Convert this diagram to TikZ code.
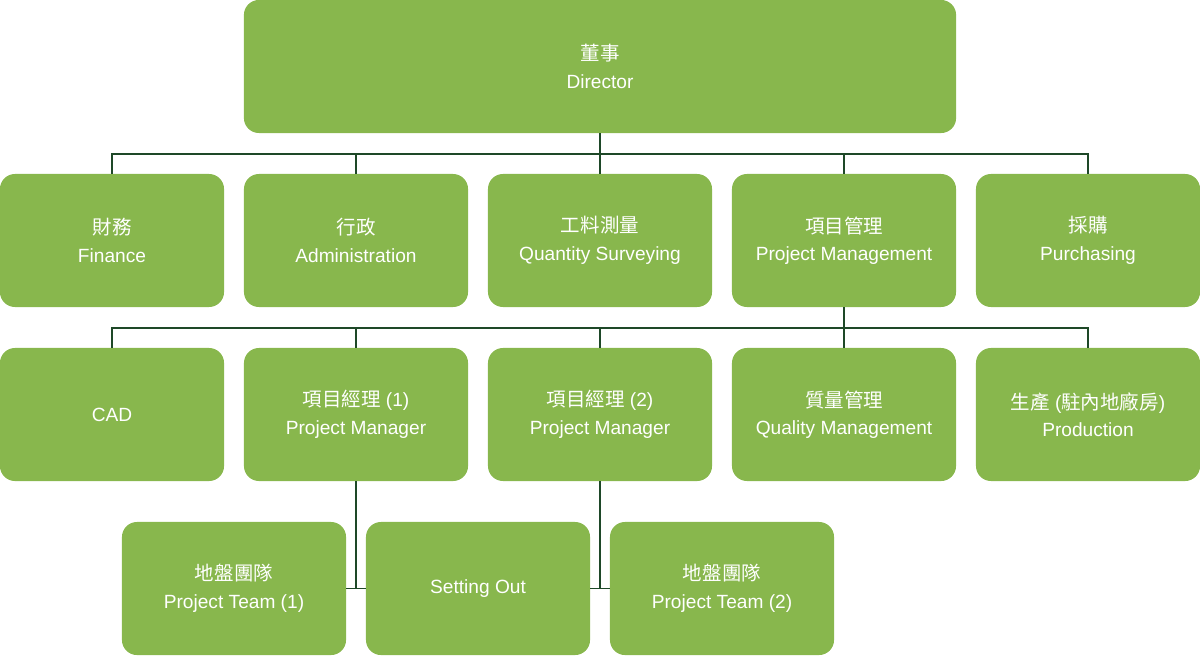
\documentclass[tikz,border=0pt]{standalone}
\usepackage{fontspec}
\setmainfont{Liberation Sans}
\newfontfamily\cjk[Scale=1.02]{Noto Sans CJK TC}
\usepackage{xcolor}
\usetikzlibrary{positioning}
\definecolor{LeafGreen}{RGB}{136,183,77}
\definecolor{PineLine}{RGB}{30,72,40}
\tikzset{
  orgbox/.style={fill=LeafGreen, draw=none, rounded corners=0.375cm,
    minimum width=5.6cm, minimum height=3.325cm, inner sep=2pt, align=center,
    text=white, font=\fontsize{13.6}{19.6}\selectfont},
  topbox/.style={orgbox, minimum width=17.8cm},
  link/.style={draw=PineLine, line width=1.4pt},
}

\begin{document}
\begin{tikzpicture}[x=0.025cm, y=-0.025cm]
  \useasboundingbox (0,0) rectangle (1200,656);
  % director
  \node[topbox] (dir) at (600,66.5) {{\cjk 董事}\\Director};
  % departments
  \node[orgbox] (fin) at (112,240.5) {{\cjk 財務}\\Finance};
  \node[orgbox] (adm) at (356,240.5) {{\cjk 行政}\\Administration};
  \node[orgbox] (qs)  at (600,240.5) {{\cjk 工料測量}\\Quantity Surveying};
  \node[orgbox] (pm)  at (844,240.5) {{\cjk 項目管理}\\Project Management};
  \node[orgbox] (pur) at (1088,240.5) {{\cjk 採購}\\Purchasing};
  % under project management
  \node[orgbox] (cad) at (112,414.5) {CAD};
  \node[orgbox] (pmone) at (356,414.5) {{\cjk 項目經理} (1)\\Project Manager};
  \node[orgbox] (pmtwo) at (600,414.5) {{\cjk 項目經理} (2)\\Project Manager};
  \node[orgbox] (qm)  at (844,414.5) {{\cjk 質量管理}\\Quality Management};
  \node[orgbox] (prod) at (1088,414.5) {{\cjk 生產} ({\cjk 駐內地廠房})\\Production};
  % site teams
  \node[orgbox] (teamone) at (234,588.5) {{\cjk 地盤團隊}\\Project Team (1)};
  \node[orgbox] (setout)  at (478,588.5) {Setting Out};
  \node[orgbox] (teamtwo) at (722,588.5) {{\cjk 地盤團隊}\\Project Team (2)};

  \coordinate (busa) at (600,154);
  \coordinate (busb) at (844,328);
  \draw[link] (dir.south) -- (busa);
  \foreach \n in {fin,adm,qs,pm,pur}
    \draw[link] (busa) -| (\n.north);
  \draw[link] (pm.south) -- (busb);
  \foreach \n in {cad,pmone,pmtwo,qm,prod}
    \draw[link] (busb) -| (\n.north);
  \draw[link] (pmone.south) |- (teamone.east);
  \draw[link] (pmone.south) |- (setout.west);
  \draw[link] (pmtwo.south) |- (setout.east);
  \draw[link] (pmtwo.south) |- (teamtwo.west);
\end{tikzpicture}
\end{document}
